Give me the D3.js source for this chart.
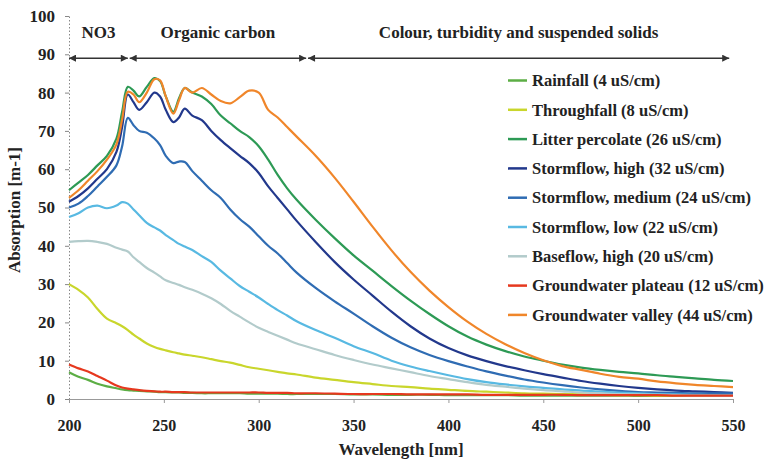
<!DOCTYPE html>
<html>
<head>
<meta charset="utf-8">
<script src="https://cdn.jsdelivr.net/npm/d3@7"></script>
<style>
  body { margin: 0; background: #fff; }
  svg text { font-family: "Liberation Serif", "Times New Roman", serif; font-weight: bold; fill: #222; }
</style>
</head>
<body>
<svg width="769" height="461"></svg>
<script>
// wavelengths (nm)
const wavelengths = [200,205,210,215,220,225,228,231,234,237,241,245,248,251,255,258,261,265,270,275,280,285,290,295,300,305,310,315,320,330,340,350,360,370,380,390,400,410,420,430,440,450,460,470,480,490,500,510,520,530,540,550];

const seriesNames = [
  "Rainfall (4 uS/cm)",
  "Throughfall (8 uS/cm)",
  "Litter percolate (26 uS/cm)",
  "Stormflow, high (32 uS/cm)",
  "Stormflow, medium (24 uS/cm)",
  "Stormflow, low (22 uS/cm)",
  "Baseflow, high (20 uS/cm)",
  "Groundwater plateau (12 uS/cm)",
  "Groundwater valley (44 uS/cm)"
];
const seriesColors = ["#5cae45", "#c9d62c", "#2d9a55", "#22388c", "#2f6cb3", "#58b9e2", "#b2cbcb", "#e6381e", "#f0862a"];

// absorption [m-1], one value per wavelength
const rainfall = [7,5.8,5,4,3.3,2.8,2.5,2.3,2.2,2.1,2,1.9,1.8,1.8,1.7,1.7,1.6,1.6,1.5,1.5,1.5,1.5,1.5,1.4,1.4,1.4,1.4,1.3,1.3,1.3,1.3,1.2,1.2,1.1,1.1,1.1,1,1,1,1,0.9,0.9,0.9,0.9,0.9,0.9,0.8,0.8,0.8,0.8,0.8,0.8];
const throughfall = [30,28.5,26.5,23.5,21,19.8,19,18,16.8,15.8,14.5,13.6,13.1,12.7,12.2,11.9,11.6,11.3,10.9,10.4,9.9,9.5,8.9,8.3,7.9,7.5,7.1,6.7,6.4,5.6,5,4.4,3.9,3.4,3.1,2.7,2.4,2.1,1.9,1.7,1.5,1.4,1.3,1.2,1.1,1,1,0.9,0.9,0.8,0.8,0.8];
const litter = [54.5,56.5,58.5,61,63.5,68,75,81.5,80.5,79,81.5,83.8,83,79,75,78.5,81.2,80,79,77,74,72,70,68.4,66,62.5,58.5,55,52,46.8,42,37.5,33.5,29.5,25.7,22.2,19,16.3,14.2,12.5,11.1,10,9,8.2,7.6,7.1,6.7,6.2,5.8,5.4,5,4.7];
const stormHigh = [51.5,53,55,57.5,60,64.5,71,79.5,77.5,75.5,77.5,80,79,75.5,72.3,73.5,75.8,74,72.8,70,67.6,65.5,63.5,61.6,59,55.5,52.5,49.5,46.5,41,35.8,31.2,27,22.8,19,15.8,13.3,11.4,9.9,8.6,7.5,6.5,5.6,4.7,4,3.4,2.9,2.5,2.2,2,1.8,1.6];
const stormMedium = [50,51,53,55.5,58,61,66,73.4,71.5,70,69.5,68,66.3,63.5,61.6,62,61.9,59.5,57,54.5,52.5,49.5,47,45,42.5,40,38,35.5,33,29,25.5,22.3,19,16,13.5,11.5,9.9,8.5,7.2,6.1,5.1,4.3,3.6,3,2.5,2.1,1.8,1.7,1.6,1.5,1.5,1.5];
const stormLow = [47.5,48.5,50,50.5,49.8,50.5,51.4,51,49.5,48,46,44.8,44,42.8,41.5,40.5,39.8,38.9,37.3,35.8,33.5,31.5,29.5,28,26.5,24.8,23.2,21.8,20.3,18,16,13.8,12,10,8.5,7.3,6.2,5.2,4.4,3.8,3.3,2.9,2.5,2.2,1.9,1.7,1.5,1.3,1.2,1.1,1,1];
const baseflow = [41,41.2,41.3,41,40.5,39.5,39,38.5,37,35.8,34.2,33,32,31,30.3,29.8,29.2,28.5,27.5,26.3,24.8,23,21.5,20,18.6,17.5,16.5,15.5,14.5,13,11.5,10.2,9,8,7,6,5.2,4.4,3.7,3.2,2.7,2.3,2,1.7,1.5,1.3,1.2,1.1,1,0.9,0.9,0.8];
const gwPlateau = [9,8,7.2,6,4.8,3.5,3,2.7,2.5,2.3,2.1,2,1.9,1.9,1.8,1.8,1.8,1.7,1.7,1.7,1.7,1.7,1.7,1.7,1.7,1.6,1.6,1.6,1.5,1.5,1.4,1.3,1.3,1.3,1.2,1.2,1.2,1.2,1.1,1.1,1.1,1.1,1.1,1,1,1,1,1,0.9,0.9,0.9,0.9];
const gwValley = [52.5,54.5,57,59.5,62.5,66.5,73,80.2,79.5,77.5,80,83.5,83.2,79,74.5,78,81.2,80,81.2,79.5,77.8,77.2,78.8,80.5,80,75.5,73.5,71,68.5,63.5,57.8,51.5,45,38.8,33.2,28.3,24,20.2,17,14.3,12,10.1,8.6,7.6,6.6,5.8,5.3,4.6,4.1,3.7,3.4,3.1];

const seriesValues = [rainfall, throughfall, litter, stormHigh, stormMedium, stormLow, baseflow, gwPlateau, gwValley];

// absorption regions marked with arrows above the curves
const regionLabels = ["NO3", "Organic carbon", "Colour, turbidity and suspended solids"];
const regionBounds = [[200, 231], [232, 325], [326, 548]];
const regionArrowY = 89;

const xTicks = [200, 250, 300, 350, 400, 450, 500, 550];
const yTicks = [0, 10, 20, 30, 40, 50, 60, 70, 80, 90, 100];

const svg = d3.select("svg");

const x = d3.scaleLinear().domain([200, 550]).range([69, 733]);
const y = d3.scaleLinear().domain([0, 100]).range([399, 16]);

// axes
const yAxis = svg.append("g")
  .attr("transform", "translate(69,0)")
  .call(d3.axisLeft(y).tickValues(yTicks).tickSize(4).tickSizeOuter(0).tickPadding(10));
yAxis.select(".domain").attr("stroke", "#888").attr("stroke-dasharray", "1.5,2");
yAxis.selectAll(".tick line").attr("stroke", "#888");
yAxis.selectAll(".tick text").style("font-size", "17px").attr("fill", "#222");

const xAxis = svg.append("g")
  .attr("transform", "translate(0,399)")
  .call(d3.axisBottom(x).tickValues(xTicks).tickSize(4).tickSizeOuter(0).tickPadding(17));
xAxis.select(".domain").attr("stroke", "#999");
xAxis.selectAll(".tick line").attr("stroke", "#999");
xAxis.selectAll(".tick text").style("font-size", "16px").attr("fill", "#222");

svg.append("text")
  .attr("x", x(375)).attr("y", 455)
  .attr("text-anchor", "middle")
  .style("font-size", "17px")
  .text("Wavelength [nm]");

svg.append("text")
  .attr("transform", "translate(20,210) rotate(-90)")
  .attr("text-anchor", "middle")
  .style("font-size", "17px")
  .text("Absorption [m-1]");

// arrow heads
svg.append("defs").append("marker")
  .attr("id", "head")
  .attr("viewBox", "0 0 10 10")
  .attr("refX", 10).attr("refY", 5)
  .attr("markerUnits", "userSpaceOnUse")
  .attr("markerWidth", 9).attr("markerHeight", 7)
  .attr("orient", "auto-start-reverse")
  .append("path")
  .attr("d", "M0,0L10,5L0,10z")
  .attr("fill", "#333");

regionBounds.forEach((b, i) => {
  svg.append("line")
    .attr("x1", x(b[0])).attr("x2", x(b[1]))
    .attr("y1", y(regionArrowY)).attr("y2", y(regionArrowY))
    .attr("stroke", "#333").attr("stroke-width", 1.5)
    .attr("marker-start", "url(#head)")
    .attr("marker-end", "url(#head)");
  svg.append("text")
    .attr("x", (x(b[0]) + x(b[1])) / 2)
    .attr("y", 38)
    .attr("text-anchor", "middle")
    .style("font-size", "17px")
    .text(regionLabels[i]);
});

// curves
const line = d3.line()
  .x((d, i) => x(wavelengths[i]))
  .y(d => y(d))
  .curve(d3.curveCatmullRom.alpha(0.5));

svg.append("g").selectAll("path")
  .data(seriesValues)
  .join("path")
  .attr("d", line)
  .attr("fill", "none")
  .attr("stroke", (d, i) => seriesColors[i])
  .attr("stroke-width", 2.2)
  .attr("stroke-linejoin", "round");

// legend
const legend = svg.append("g").attr("transform", "translate(508,80.5)");
seriesNames.forEach((name, i) => {
  const g = legend.append("g").attr("transform", `translate(0,${i * 29.3})`);
  g.append("line")
    .attr("x1", 0).attr("x2", 19)
    .attr("stroke", seriesColors[i]).attr("stroke-width", 2.5);
  g.append("text")
    .attr("x", 24).attr("y", 0).attr("dy", "0.35em")
    .style("font-size", "16.5px")
    .text(name);
});
</script>
</body>
</html>
